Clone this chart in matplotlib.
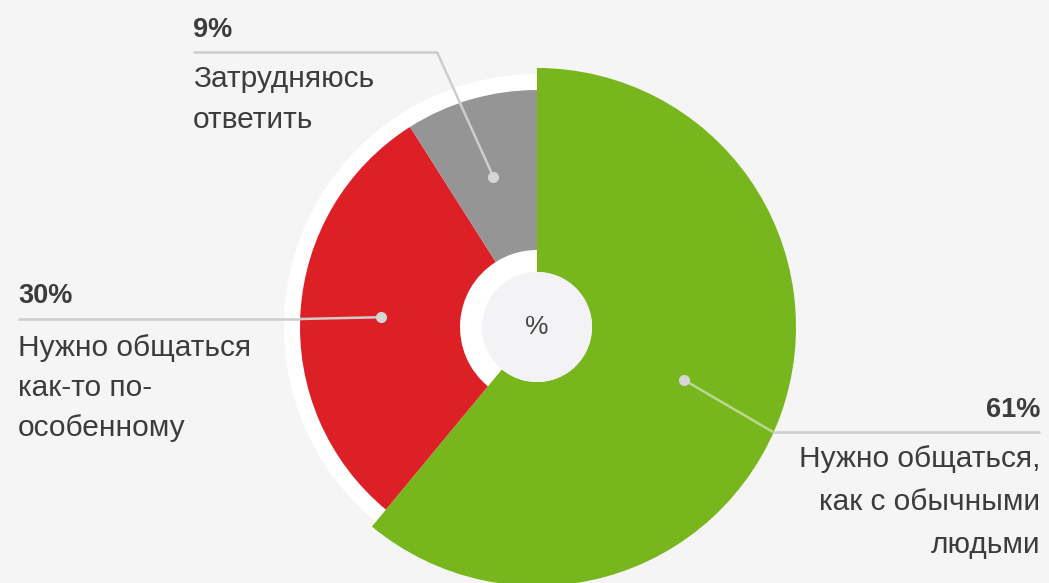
import numpy as np
import matplotlib
matplotlib.use('Agg')
import matplotlib.pyplot as plt
from matplotlib.patches import Circle

# survey answers, share in percent
answers = ['Нужно общаться,\nкак с обычными\nлюдьми',
           'Нужно общаться\nкак-то по-\nособенному',
           'Затрудняюсь\nответить']
shares = [61, 30, 9]
colors = ['#77b71d', '#dc2026', '#959595']

W, H = 1049, 583
BG = '#f5f5f5'
TXT = '#3c3c3c'
LINE = '#cdcdcd'


def py(y):
    # pixel row (top-down) -> data y (bottom-up)
    return H - y


plt.rcParams['font.family'] = ['Liberation Sans', 'DejaVu Sans']

fig = plt.figure(figsize=(W / 100, H / 100), dpi=100, facecolor=BG)
ax = fig.add_axes([0, 0, 1, 1])
ax.set_facecolor(BG)

cx, cy = 537, py(327)
r_out, r_in = 237, 77
r_big, r_hole = 259, 55

ax.add_patch(Circle((cx, cy), 253, facecolor='white', edgecolor='none', zorder=1))

wedges, _ = ax.pie(shares, colors=colors, startangle=90, counterclock=False,
                   radius=r_out, center=(cx, cy),
                   wedgeprops=dict(width=r_out - r_in, linewidth=0, zorder=2))
# the leading answer is drawn larger than the rest
wedges[0].set_radius(r_big)
wedges[0].set_width(r_big - r_hole)

ax.add_patch(Circle((cx, cy), r_hole, facecolor='#f3f3f5', edgecolor='none', zorder=3))
ax.text(cx, cy, '%', ha='center', va='center', fontsize=19, color='#444444', zorder=4)

# label anchor points at the middle of each slice
mids = []
start = 90.0
for s in shares:
    ang = start - s / sum(shares) * 360 / 2
    mids.append(np.deg2rad(ang))
    start -= s / sum(shares) * 360
r_dot = 156
dots = [(cx + r_dot * np.cos(a), cy + r_dot * np.sin(a)) for a in mids]

# leader lines: elbow (pixel layout) and end x
leaders = [((773, 432), 1040), ((300, 319), 18), ((437, 52), 193)]
line_colors = ['#b9d98f', LINE, LINE]
for i, ((bx, by), endx) in enumerate(leaders):
    px_, py_ = dots[i]
    ax.plot([px_, bx], [py_, py(by)], color=line_colors[i], lw=1.8,
            zorder=5, solid_capstyle='butt')
    ax.plot([bx, endx], [py(by), py(by)], color=LINE, lw=1.8,
            zorder=5, solid_capstyle='butt')
    ax.plot(px_, py_, 'o', ms=8, color='#d6d6d6', mec='none', zorder=6)

fs_pct = 19.5
fs = 21.5
# 61%
ax.text(1040, py(417), f'{shares[0]}%', ha='right', va='baseline', fontsize=fs_pct,
        fontweight='bold', color=TXT)
ax.text(1040, py(445), answers[0], ha='right', va='top', fontsize=fs,
        color=TXT, linespacing=1.68)
# 30%
ax.text(18, py(303), f'{shares[1]}%', ha='left', va='baseline', fontsize=fs_pct,
        fontweight='bold', color=TXT)
ax.text(18, py(334), answers[1], ha='left', va='top', fontsize=fs,
        color=TXT, linespacing=1.55)
# 9%
ax.text(193, py(37), f'{shares[2]}%', ha='left', va='baseline', fontsize=fs_pct,
        fontweight='bold', color=TXT)
ax.text(193, py(65), answers[2], ha='left', va='top', fontsize=fs,
        color=TXT, linespacing=1.6)

ax.set_xlim(0, W)
ax.set_ylim(0, H)
ax.set_aspect('equal')
ax.axis('off')

fig.savefig('out.png', dpi=100, facecolor=BG)
